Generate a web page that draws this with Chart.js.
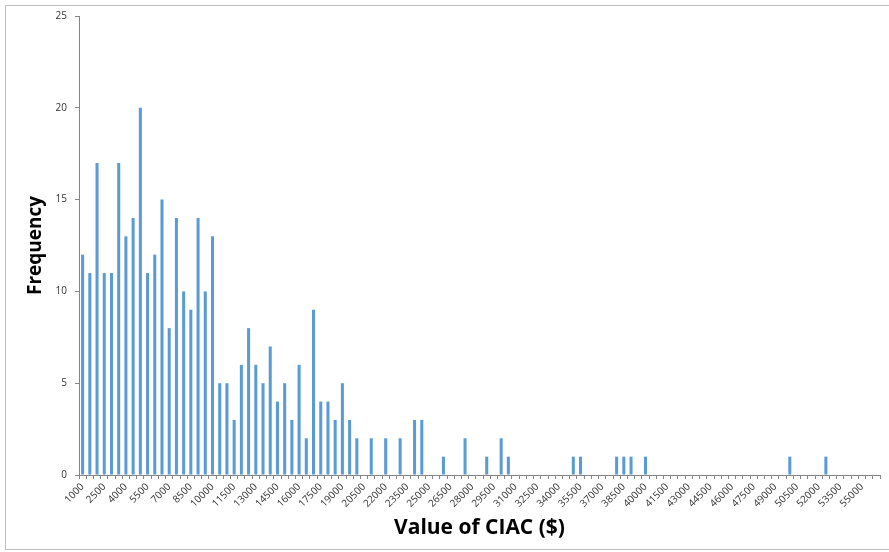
<!DOCTYPE html>
<html>
<head>
<meta charset="utf-8">
<script src="https://cdn.jsdelivr.net/npm/chart.js@4/dist/chart.umd.min.js"></script>
<style>
	html, body { margin: 0; padding: 0; background: #fff; }
	#wrap { width: 889px; height: 552px; }
</style>
</head>
<body>
<div id="wrap"><canvas id="histChart" width="889" height="552"></canvas></div>
<script>
// bins of CIAC value ($), 500 wide
const bins = [
	1000, 1500, 2000, 2500, 3000, 3500, 4000, 4500, 5000, 5500,
	6000, 6500, 7000, 7500, 8000, 8500, 9000, 9500, 10000, 10500,
	11000, 11500, 12000, 12500, 13000, 13500, 14000, 14500, 15000, 15500,
	16000, 16500, 17000, 17500, 18000, 18500, 19000, 19500, 20000, 20500,
	21000, 21500, 22000, 22500, 23000, 23500, 24000, 24500, 25000, 25500,
	26000, 26500, 27000, 27500, 28000, 28500, 29000, 29500, 30000, 30500,
	31000, 31500, 32000, 32500, 33000, 33500, 34000, 34500, 35000, 35500,
	36000, 36500, 37000, 37500, 38000, 38500, 39000, 39500, 40000, 40500,
	41000, 41500, 42000, 42500, 43000, 43500, 44000, 44500, 45000, 45500,
	46000, 46500, 47000, 47500, 48000, 48500, 49000, 49500, 50000, 50500,
	51000, 51500, 52000, 52500, 53000, 53500, 54000, 54500, 55000, 55500,
	56000,
];

// frequency per bin
const frequency = [
	12, 11, 17, 11, 11, 17, 13, 14, 20, 11,
	12, 15, 8, 14, 10, 9, 14, 10, 13, 5,
	5, 3, 6, 8, 6, 5, 7, 4, 5, 3,
	6, 2, 9, 4, 4, 3, 5, 3, 2, 0,
	2, 0, 2, 0, 2, 0, 3, 3, 0, 0,
	1, 0, 0, 2, 0, 0, 1, 0, 2, 1,
	0, 0, 0, 0, 0, 0, 0, 0, 1, 1,
	0, 0, 0, 0, 1, 1, 1, 0, 1, 0,
	0, 0, 0, 0, 0, 0, 0, 0, 0, 0,
	0, 0, 0, 0, 0, 0, 0, 0, 1, 0,
	0, 0, 0, 1, 0, 0, 0, 0, 0, 0,
	0,
];

const yTicks = [0, 5, 10, 15, 20, 25];
const lastLabelled = 55000;

const axisGrey = '#868686';
const textGrey = '#333333';

// light frame round the whole picture, like the exported chart
const framePlugin = {
	id: 'frame',
	beforeDraw(chart) {
		const { ctx } = chart;
		ctx.save();
		ctx.fillStyle = '#fff';
		ctx.fillRect(0, 0, chart.width, chart.height);
		ctx.strokeStyle = '#BFBFBF';
		ctx.lineWidth = 1;
		ctx.strokeRect(5.5, 5.5, 900, 544);
		ctx.restore();
	},
};

const ctx = document.getElementById('histChart').getContext('2d');

new Chart(ctx, {
	type: 'bar',
	data: {
		labels: bins,
		datasets: [
			{
				label: 'Frequency',
				data: frequency,
				backgroundColor: '#5B9BD5',
				borderWidth: 0,
				categoryPercentage: 1,
				barPercentage: 0.42,
			},
		],
	},
	options: {
		responsive: false,
		animation: false,
		layout: {
			padding: { top: 16, right: 9, bottom: 0, left: 0 },
		},
		plugins: {
			legend: { display: false },
			tooltip: { enabled: false },
		},
		scales: {
			x: {
				offset: true,
				border: { color: axisGrey, width: 1 },
				grid: {
					offset: true,
					drawOnChartArea: false,
					drawTicks: true,
					tickLength: 4,
					color: axisGrey,
				},
				ticks: {
					autoSkip: false,
					minRotation: 45,
					maxRotation: 45,
					padding: 2,
					color: textGrey,
					font: { family: 'Open Sans', size: 10 },
					callback(value, index) {
						const v = bins[index];
						return index % 3 === 0 && v <= lastLabelled ? String(v) : '';
					},
				},
				title: {
					display: true,
					text: 'Value of CIAC ($)',
					color: '#000',
					font: { family: 'Open Sans', size: 21, weight: 'bold' },
					padding: { top: 0, bottom: 11 },
				},
				afterFit(scale) {
					scale.height = 77;
				},
			},
			y: {
				min: 0,
				max: 25,
				border: { color: axisGrey, width: 1 },
				grid: {
					drawOnChartArea: false,
					drawTicks: true,
					tickLength: 4,
					color: axisGrey,
				},
				afterBuildTicks(scale) {
					scale.ticks = yTicks.map((v) => ({ value: v }));
				},
				ticks: {
					padding: 8,
					color: textGrey,
					font: { family: 'Open Sans', size: 10 },
				},
				title: {
					display: true,
					text: 'Frequency',
					color: '#000',
					font: { family: 'Open Sans', size: 19, weight: 'bold' },
					padding: { top: 24, bottom: 0 },
				},
				afterFit(scale) {
					scale.width = 79;
				},
			},
		},
	},
	plugins: [framePlugin],
});
</script>
</body>
</html>
